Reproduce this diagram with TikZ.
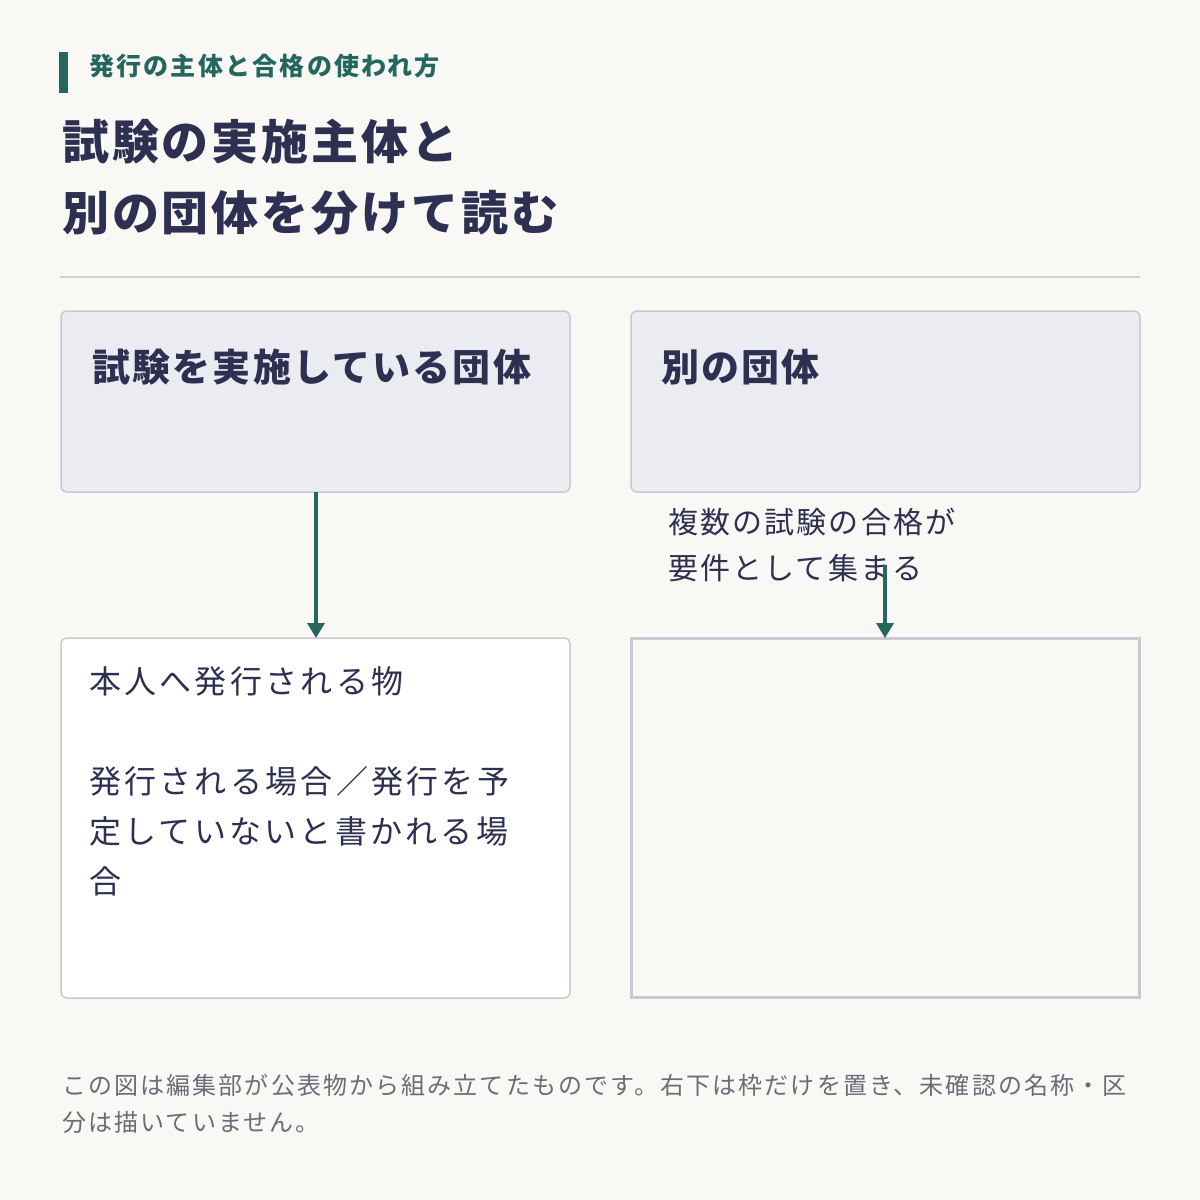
\documentclass[tikz,border=0pt]{standalone}
\usepackage{fontspec}
\setmainfont{Noto Sans CJK JP}
\usetikzlibrary{arrows.meta}
\definecolor{bg}{HTML}{F9F8F4}
\definecolor{teal}{HTML}{24675F}
\definecolor{navy}{HTML}{2D3051}
\definecolor{boxfill}{HTML}{EBEBF2}
\definecolor{boxline}{HTML}{C9C9D1}
\definecolor{foot}{HTML}{6B6C78}
\definecolor{rule}{HTML}{CFCFD4}
\tikzset{
  txt/.style={inner sep=0pt, anchor=base west},
  subttl/.style={txt, text=teal, font={\fontsize{25}{30}\selectfont\bfseries\addfontfeature{LetterSpace=9}}},
  ttl/.style={txt, text=navy, font={\fontsize{47}{71}\selectfont\bfseries\addfontfeature{LetterSpace=6.2}}},
  headbox/.style={draw=boxline, line width=1.5pt, fill=boxfill, rounded corners=6pt},
  headtxt/.style={txt, text=navy, font={\fontsize{38}{46}\selectfont\bfseries\addfontfeature{LetterSpace=5.8}}},
  bodybox/.style={draw=boxline, line width=1.5pt, fill=white, rounded corners=6pt},
  emptybox/.style={draw=boxline, line width=3pt},
  bodytxt/.style={txt, text=navy, font={\fontsize{32}{50}\selectfont\addfontfeature{LetterSpace=10.2}}},
  lbltxt/.style={txt, text=navy, font={\fontsize{30}{46}\selectfont\addfontfeature{LetterSpace=7.2}}},
  foottxt/.style={txt, text=foot, font={\fontsize{24}{37}\selectfont\addfontfeature{LetterSpace=8.8}}},
  conn/.style={draw=teal, line width=3.5pt, -{Triangle[width=17pt,length=15pt]}},
}
\begin{document}
\begin{tikzpicture}[x=1pt,y=-1pt]
\fill[bg] (0,0) rectangle (1200,1200);
\useasboundingbox (0,0) rectangle (1200,1200);
% header
\fill[teal] (59,52) rectangle (68,93);
\node[subttl] (sub) at (89,75.5) {発行の主体と合格の使われ方};
\node[ttl] (t1) at (62,159) {試験の実施主体と};
\node[ttl] (t2) at (62,230) {別の団体を分けて読む};
\draw[rule, line width=2pt] (60,277) -- (1140,277);
% boxes
\draw[headbox] (61,311) rectangle (570,492);
\coordinate (b1s) at (316,492);
\node[headtxt] (h1) at (92,381) {試験を実施している団体};
\draw[headbox] (631,311) rectangle (1140,492);
\node[headtxt] (h2) at (661,381) {別の団体};
\draw[bodybox] (61,638) rectangle (570,998);
\coordinate (b3n) at (316,638);
\node[bodytxt] (p1) at (89,693) {本人へ発行される物};
\node[bodytxt] (p2) at (89,793) {発行される場合／発行を予};
\node[bodytxt] (p3) at (89,843) {定していないと書かれる場};
\node[bodytxt] (p4) at (89,893) {合};
\draw[emptybox] (631.5,638.5) rectangle (1139.5,997.5);
\coordinate (b4n) at (885,638);
% label
\node[lbltxt] (l1) at (668,533) {複数の試験の合格が};
\node[lbltxt] (l2) at (668,579) {要件として集まる};
% connectors
\coordinate (a2s) at (885,565);
\draw[conn] (b1s) -- (b3n);
\draw[conn] (a2s) -- (b4n);
% footer
\node[foottxt] (f1) at (62,1094) {この図は編集部が公表物から組み立てたものです。右下は枠だけを置き、未確認の名称・区};
\node[foottxt] (f2) at (62,1131) {分は描いていません。};
\end{tikzpicture}
\end{document}
